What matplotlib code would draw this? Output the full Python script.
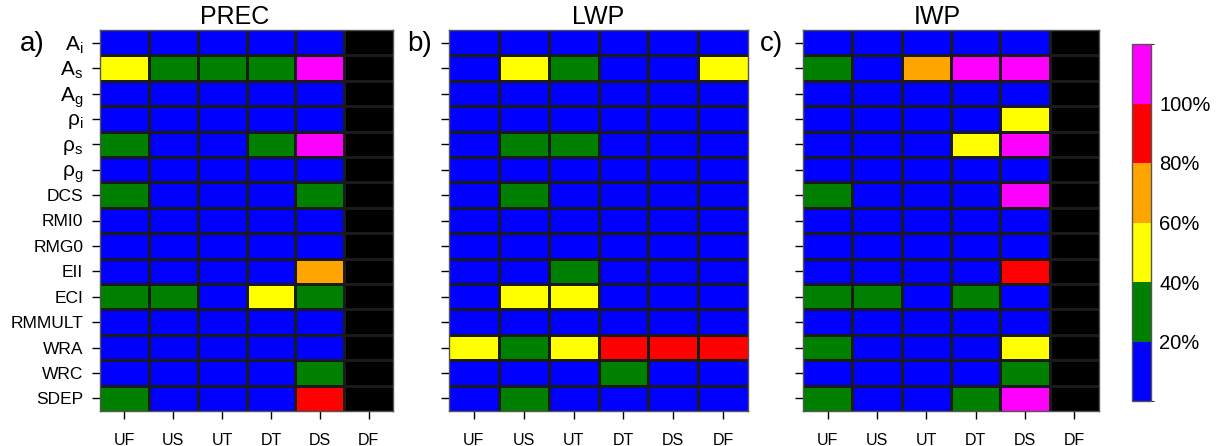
import numpy as np
import matplotlib
matplotlib.use("Agg")
import matplotlib.pyplot as plt
from matplotlib.colors import ListedColormap, BoundaryNorm

plt.rcParams["font.family"] = ["Liberation Sans", "DejaVu Sans"]

params = [r"$\mathregular{A_i}$", r"$\mathregular{A_s}$", r"$\mathregular{A_g}$",
          r"$\mathregular{ρ_i}$", r"$\mathregular{ρ_s}$", r"$\mathregular{ρ_g}$",
          "DCS", "RMI0", "RMG0", "EII", "ECI", "RMMULT", "WRA", "WRC", "SDEP"]
regimes = ["UF", "US", "UT", "DT", "DS", "DF"]

nan = np.nan
# sensitivity (%) per parameter (rows) and regime (columns); NaN = not available
prec = [
    [10, 10, 10, 10, 10, nan],
    [50, 30, 30, 30, 110, nan],
    [10, 10, 10, 10, 10, nan],
    [10, 10, 10, 10, 10, nan],
    [30, 10, 10, 30, 110, nan],
    [10, 10, 10, 10, 10, nan],
    [30, 10, 10, 10, 30, nan],
    [10, 10, 10, 10, 10, nan],
    [10, 10, 10, 10, 10, nan],
    [10, 10, 10, 10, 70, nan],
    [30, 30, 10, 50, 30, nan],
    [10, 10, 10, 10, 10, nan],
    [10, 10, 10, 10, 10, nan],
    [10, 10, 10, 10, 30, nan],
    [30, 10, 10, 10, 90, nan],
]
lwp = [
    [10, 10, 10, 10, 10, 10],
    [10, 50, 30, 10, 10, 50],
    [10, 10, 10, 10, 10, 10],
    [10, 10, 10, 10, 10, 10],
    [10, 30, 30, 10, 10, 10],
    [10, 10, 10, 10, 10, 10],
    [10, 30, 10, 10, 10, 10],
    [10, 10, 10, 10, 10, 10],
    [10, 10, 10, 10, 10, 10],
    [10, 10, 30, 10, 10, 10],
    [10, 50, 50, 10, 10, 10],
    [10, 10, 10, 10, 10, 10],
    [50, 30, 50, 90, 90, 90],
    [10, 10, 10, 30, 10, 10],
    [10, 30, 10, 10, 10, 10],
]
iwp = [
    [10, 10, 10, 10, 10, nan],
    [30, 10, 70, 110, 110, nan],
    [10, 10, 10, 10, 10, nan],
    [10, 10, 10, 10, 50, nan],
    [10, 10, 10, 50, 110, nan],
    [10, 10, 10, 10, 10, nan],
    [30, 10, 10, 10, 110, nan],
    [10, 10, 10, 10, 10, nan],
    [10, 10, 10, 10, 10, nan],
    [10, 10, 10, 10, 90, nan],
    [30, 30, 10, 30, 10, nan],
    [10, 10, 10, 10, 10, nan],
    [30, 10, 10, 10, 50, nan],
    [10, 10, 10, 10, 30, nan],
    [30, 10, 10, 30, 110, nan],
]

titles = ["PREC", "LWP", "IWP"]
letters = ["a)", "b)", "c)"]
levels = [0, 20, 40, 60, 80, 100, 120]
cbar_ticks = [20, 40, 60, 80, 100]
colors = ["#0000ff", "#008000", "#ffff00", "#ffa500", "#ff0000", "#ff00ff"]

cmap = ListedColormap(colors)
cmap.set_bad("black")
norm = BoundaryNorm(levels, cmap.N)

fig = plt.figure(figsize=(12.22, 4.46), dpi=100)

W, H = 1222, 446
boxes = [(100, 293), (449, 299), (803, 296)]
top_px, bot_px = 30, 411
letter_dx = [-80, -42, -43]
title_x = [0.46, 0.5, 0.455]

nr, nc = len(params), len(regimes)
mesh = None
for k, (data, title, letter) in enumerate(zip([prec, lwp, iwp], titles, letters)):
    x0, w = boxes[k]
    ax = fig.add_axes([x0 / W, 1 - bot_px / H, w / W, (bot_px - top_px) / H])
    arr = np.ma.masked_invalid(np.array(data, dtype=float))
    mesh = ax.pcolormesh(np.arange(nc + 1), np.arange(nr + 1), arr,
                         cmap=cmap, norm=norm, edgecolors="none", snap=True)
    # cell borders
    ax.hlines(np.arange(1, nr), 0, nc, colors="#1a1a1a", linewidth=0.75,
              antialiased=False)
    ax.vlines(np.arange(1, nc), 0, nr, colors="#1a1a1a", linewidth=0.75,
              antialiased=False)
    ax.set_xlim(0, nc)
    ax.set_ylim(nr, 0)
    ax.set_xticks(np.arange(nc) + 0.5)
    ax.set_xticklabels(regimes, fontsize=11.5)
    ax.set_yticks(np.arange(nr) + 0.5)
    if k == 0:
        ax.set_yticklabels(params, fontsize=12.5)
        for i, t in enumerate(ax.get_yticklabels()):
            if i < 6:
                t.set_fontsize(15)
    else:
        ax.set_yticklabels([])
    ax.tick_params(direction="out", length=6, width=1, pad=10)
    ax.tick_params(axis="y", pad=6)
    for s in ax.spines.values():
        s.set_color("#555555")
        s.set_linewidth(1)
    ax.set_title(title, fontsize=18, pad=4, x=title_x[k])
    ax.text(letter_dx[k] / w, 1 - 14 / (bot_px - top_px), letter, transform=ax.transAxes,
            fontsize=20, ha="left", va="center")

cax = fig.add_axes([1132 / W, 1 - 401 / H, 19 / W, (401 - 44) / H])
cb = fig.colorbar(mesh, cax=cax, boundaries=levels, ticks=cbar_ticks)
cb.ax.set_yticklabels([f"{t}%" for t in cbar_ticks], fontsize=14.5)
cb.ax.tick_params(length=0, pad=6)
cb.outline.set_edgecolor("#555555")
cb.outline.set_linewidth(1)
for t in cb.ax.get_yticklabels():
    t.set_va("center_baseline")

fig.savefig("out.png", dpi=100)
